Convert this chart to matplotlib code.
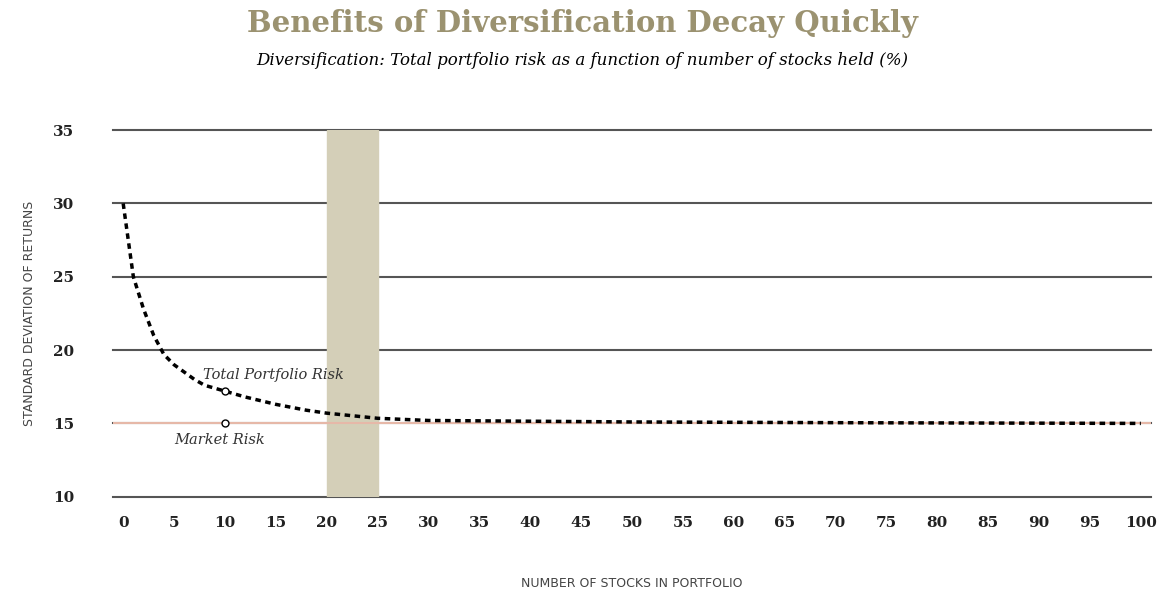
import numpy as np
import matplotlib
matplotlib.use('Agg')
import matplotlib.pyplot as plt

# curve
stocks = [0, 0.5, 1, 2, 3, 4, 5, 6, 7, 8, 10, 12, 15, 18, 20, 25, 30, 40, 50, 70, 100]
risk = [30.0, 27.5, 25.0, 22.8, 21.0, 19.7, 19.0, 18.5, 18.0, 17.6, 17.2, 16.8, 16.3, 15.9, 15.7, 15.35, 15.2, 15.15, 15.1, 15.05, 15.0]
market = 15.0
band = (20, 25)
xticks = list(range(0, 101, 5))
yticks = [10, 15, 20, 25, 30, 35]

fig = plt.figure(figsize=(11.65, 6.08), dpi=100)
ax = fig.add_axes([0.097, 0.183, 0.891, 0.603])
ax.set_xlim(-1, 101)
ax.set_ylim(10, 35)

for y in yticks:
    ax.axhline(y, color='#555555', lw=1.5, zorder=1, clip_on=False)
ax.axvspan(band[0], band[1], color='#d4cfb8', zorder=2)
ax.plot([-1, 101], [market, market], color='#e6b8a8', lw=1.5, zorder=3)
ax.plot(stocks, risk, color='black', lw=2.5, ls=(0, (1.6, 1.3)), zorder=4)
ax.plot([10], [17.2], 'o', mfc='white', mec='black', ms=5, zorder=5)
ax.plot([10], [market], 'o', mfc='white', mec='black', ms=5, zorder=5)

ax.text(7.8, 18.0, 'Total Portfolio Risk', family='DejaVu Serif', style='italic', fontsize=10.5, color='#333333', zorder=6)
ax.text(5, 13.6, 'Market Risk', family='DejaVu Serif', style='italic', fontsize=10.5, color='#333333', zorder=6)

ax.set_xticks(xticks)
ax.set_yticks(yticks)
ax.tick_params(length=0, labelsize=11, pad=14)
for lb in ax.get_xticklabels() + ax.get_yticklabels():
    lb.set_family('DejaVu Serif')
    lb.set_weight('bold')
    lb.set_color('#222222')
ax.tick_params(axis='y', pad=28)
for s in ax.spines.values():
    s.set_visible(False)

ax.set_xlabel('NUMBER OF STOCKS IN PORTFOLIO', fontsize=9, color='#444444', labelpad=34)
ax.set_ylabel('STANDARD DEVIATION OF RETURNS', fontsize=9, color='#444444', labelpad=12)

fig.text(0.5, 0.962, 'Benefits of Diversification Decay Quickly', ha='center', va='center',
         family='DejaVu Serif', weight='bold', fontsize=21, color='#9b9270')
fig.text(0.5, 0.9, 'Diversification: Total portfolio risk as a function of number of stocks held (%)',
         ha='center', va='center', family='DejaVu Serif', style='italic', fontsize=12, color='black')

fig.savefig('out.png', dpi=100)
